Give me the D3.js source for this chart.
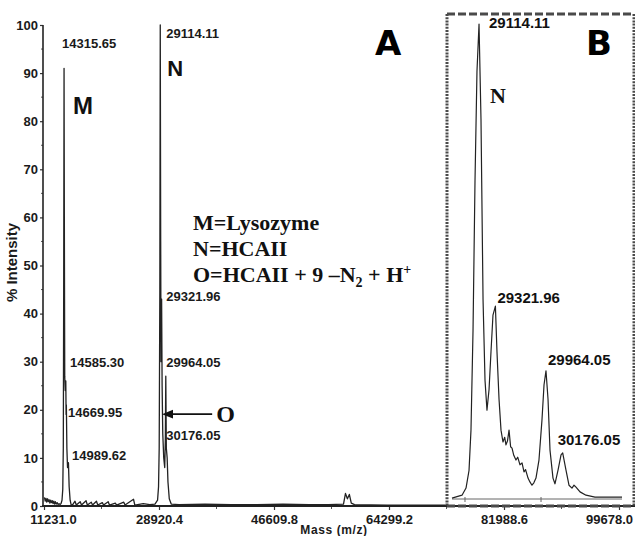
<!DOCTYPE html>
<html>
<head>
<meta charset="utf-8">
<script src="https://cdn.jsdelivr.net/npm/d3@7"></script>
<style>
  body { margin: 0; background: #fff; }
  svg { display: block; }
  .tick-label { font-family: "Liberation Sans Narrow", "Liberation Sans", Arial, sans-serif; font-weight: bold; font-size: 13px; fill: #1a1a1a; }
  .peak-label { font-family: "Liberation Sans Narrow", "Liberation Sans", Arial, sans-serif; font-weight: bold; font-size: 13px; fill: #1a1a1a; }
  .inset-label { font-family: "Liberation Sans", Arial, sans-serif; font-weight: bold; font-size: 15px; fill: #111; }
  .legend { font-family: "Liberation Serif", "Times New Roman", serif; font-weight: bold; font-size: 22px; fill: #111; }
</style>
</head>
<body>
<div id="chart"></div>
<script>
// main spectrum, [mass (m/z), % intensity]
const mainSpectrum = [
  [11300, 1.8], [11420, 1.0], [11540, 1.6], [11660, 0.8], [11780, 1.5], [11900, 0.9],
  [12020, 1.3], [12140, 0.6], [12260, 1.2], [12380, 0.7], [12500, 1.1], [12620, 0.5],
  [12740, 1.0], [12860, 0.4], [12980, 0.9], [13100, 0.4], [13250, 0.7], [13400, 0.3],
  [13550, 0.5], [13700, 0.3], [13850, 0.5], [14000, 1.2], [14120, 3.5], [14200, 12],
  [14260, 45], [14315.65, 91], [14360, 60], [14420, 27], [14500, 24], [14585.30, 26],
  [14630, 19], [14669.95, 21], [14750, 12], [14850, 8], [14989.62, 9], [15100, 4],
  [15250, 1.2], [15400, 0.3], [15600, 0.2], [16000, 1.0], [16200, 0.2], [16800, 0.9],
  [17000, 0.2], [17700, 1.1], [17900, 0.2], [18500, 0.8], [18700, 0.2], [19300, 1.0],
  [19500, 0.2], [20200, 0.7], [20400, 0.2], [21100, 0.9], [21300, 0.2], [22200, 0.6],
  [22400, 0.2], [23500, 0.8], [23700, 0.2], [25000, 1.4], [25200, 0.2], [26500, 0.5],
  [27500, 0.3], [28300, 0.4], [28700, 1.2], [28850, 4], [28950, 12], [29050, 45],
  [29114.11, 100], [29180, 55], [29230, 30], [29321.96, 43], [29400, 25], [29500, 15],
  [29650, 10], [29800, 8], [29900, 14], [29964.05, 27], [30050, 12], [30176.05, 10],
  [30300, 5], [30500, 1.5], [30800, 0.4], [32000, 0.3], [36000, 0.4], [40000, 0.3],
  [44000, 0.3], [48000, 0.4], [52000, 0.3], [55000, 0.3], [57300, 0.4], [57600, 2.6],
  [57900, 1.5], [58200, 2.4], [58500, 0.6], [59000, 0.3], [64000, 0.2], [70000, 0.2],
  [73000, 0.2]
];

// expanded view B around HCAII
const insetSpectrum = [
  [28771, 0.2], [28898, 0.8], [28949, 2.3], [28987, 6], [29012, 14.5], [29038, 35.6],
  [29063, 67], [29088, 90], [29114.11, 100], [29139, 80], [29165, 42], [29190, 25],
  [29215, 18.7], [29241, 23], [29266, 31], [29291, 38.7], [29321.96, 40.6], [29342, 31],
  [29368, 21], [29393, 14.5], [29418, 12], [29440, 13], [29456, 11.4], [29475, 12.2],
  [29495, 14.5], [29515, 11], [29533, 10.7], [29555, 9.2], [29583, 8.2], [29605, 8.8],
  [29634, 7.2], [29660, 7.6], [29685, 5.7], [29705, 6.2], [29736, 4.4], [29760, 3.6],
  [29786, 2.9], [29810, 3.4], [29837, 4.4], [29875, 8.2], [29913, 16.6], [29939, 24],
  [29964.05, 27], [29990, 21], [30015, 10.3], [30053, 4.4], [30078, 3.2], [30117, 6.1],
  [30155, 9.3], [30176.05, 9.7], [30218, 6.1], [30256, 2.9], [30294, 2.3], [30320, 2.9],
  [30345, 2.5], [30396, 1.5], [30472, 0.8], [30586, 0.4], [30777, 0.4], [30929, 0.4]
];

const xTicks = [11231.0, 28920.4, 46609.8, 64299.2, 81988.6, 99678.0];
const xMinor = [20075.7, 37765.1, 55454.5, 73143.9, 90833.3];
const yTicks = [0, 10, 20, 30, 40, 50, 60, 70, 80, 90, 100];
const yMinor = [5, 15, 25, 35, 45, 55, 65, 75, 85, 95];
const insetTicks = [28936, 29901];

// peak labels: text, label level in % intensity
const mPeaks = [["14315.65", 95.2], ["14585.30", 28.9], ["14669.95", 18.5], ["14989.62", 9.6]];
const nPeaks = [["29114.11", 97.3], ["29321.96", 42.6], ["29964.05", 28.9], ["30176.05", 13.7]];
const insetPeaks = [["29114.11", 29114.11, 99.2], ["29321.96", 29321.96, 41.3],
                    ["29964.05", 29964.05, 28.2], ["30176.05", 30176.05, 11.4]];

const legendLines = ["M=Lysozyme", "N=HCAII"];

const W = 635, H = 536;
const svg = d3.select("#chart").append("svg").attr("width", W).attr("height", H);

const x = d3.scaleLinear().domain([11231, 99678]).range([44, 619]);
const y = d3.scaleLinear().domain([0, 100]).range([506, 25]);

// y axis
const yAxis = svg.append("g")
    .attr("transform", "translate(43,0)")
    .call(d3.axisLeft(y).tickValues(yTicks).tickSize(3).tickPadding(2).tickFormat(d3.format("d")));
yAxis.select(".domain").remove();
yAxis.selectAll("text").attr("class", "tick-label");
yAxis.selectAll("line").attr("stroke", "#333").attr("stroke-width", 1.2);
svg.append("g")
    .selectAll("line")
    .data(yMinor)
    .join("line")
    .attr("x1", 41).attr("x2", 43)
    .attr("y1", d => y(d)).attr("y2", d => y(d))
    .attr("stroke", "#555");
svg.append("line")
    .attr("x1", 43).attr("x2", 43).attr("y1", y(100)).attr("y2", y(0) + 1)
    .attr("stroke", "#222").attr("stroke-width", 1.6);

// x axis
const xAxis = svg.append("g")
    .attr("transform", `translate(0,${y(0)})`)
    .call(d3.axisBottom(x).tickValues(xTicks).tickSize(4).tickPadding(5).tickFormat(d3.format(".1f")));
xAxis.select(".domain").remove();
xAxis.selectAll("text").attr("class", "tick-label");
xAxis.selectAll("line").attr("stroke", "#333").attr("stroke-width", 1.2);
xAxis.selectAll(".tick").filter(d => d === xTicks[0]).select("text").attr("dx", 9);
xAxis.selectAll(".tick").filter(d => d === xTicks[xTicks.length - 1]).select("text").attr("dx", -10);
svg.append("g")
    .selectAll("line")
    .data(xMinor)
    .join("line")
    .attr("x1", d => x(d)).attr("x2", d => x(d))
    .attr("y1", y(0)).attr("y2", y(0) + 3)
    .attr("stroke", "#555");
svg.append("line")
    .attr("x1", 42).attr("x2", W).attr("y1", y(0)).attr("y2", y(0))
    .attr("stroke", "#222").attr("stroke-width", 1.8);

svg.append("text")
    .attr("class", "tick-label")
    .attr("transform", `translate(17,${(y(0) + y(100)) / 2 - 3}) rotate(-90)`)
    .attr("text-anchor", "middle")
    .style("font-size", "15px")
    .text("% Intensity");

svg.append("text")
    .attr("class", "tick-label")
    .attr("x", 334).attr("y", 534)
    .attr("text-anchor", "middle")
    .style("font-size", "12px")
    .style("letter-spacing", "0.6px")
    .text("Mass (m/z)");

// main spectrum
const line = d3.line().x(d => x(d[0])).y(d => y(d[1]));
svg.append("path")
    .datum(mainSpectrum)
    .attr("d", line)
    .attr("fill", "none")
    .attr("stroke", "#222")
    .attr("stroke-width", 1.3)
    .attr("stroke-linejoin", "round");

// peak labels
const mX = x(14315.65), nX = x(29114.11);
const mDx = [-2, 6, 4, 8];
svg.append("g").selectAll("text")
    .data(mPeaks)
    .join("text")
    .attr("class", "peak-label")
    .attr("x", (d, i) => mX + mDx[i])
    .attr("y", d => y(d[1]))
    .text(d => d[0]);
svg.append("g").selectAll("text")
    .data(nPeaks)
    .join("text")
    .attr("class", "peak-label")
    .attr("x", nX + 6)
    .attr("y", d => y(d[1]))
    .text(d => d[0]);

svg.append("text")
    .attr("x", mX + 9).attr("y", y(81.5))
    .style("font", "bold 24px 'Liberation Sans', Arial, sans-serif")
    .attr("fill", "#111")
    .text("M");
svg.append("text")
    .attr("x", nX + 7).attr("y", y(89.5))
    .style("font", "bold 22px 'Liberation Sans', Arial, sans-serif")
    .attr("fill", "#111")
    .text("N");
svg.append("text")
    .attr("x", 375).attr("y", 55)
    .style("font", "bold 34px 'DejaVu Sans', sans-serif")
    .attr("fill", "#000")
    .text("A");

// arrow pointing at the O peak
svg.append("defs").append("marker")
    .attr("id", "head")
    .attr("viewBox", "0 0 10 10")
    .attr("refX", 1).attr("refY", 5)
    .attr("markerWidth", 7).attr("markerHeight", 7)
    .attr("orient", "auto-start-reverse")
    .append("path").attr("d", "M0,1 L10,5 L0,9 Z").attr("fill", "#111");
const arrowY = y(19.1), arrowX = x(30176.05) + 3;
svg.append("line")
    .attr("x1", arrowX + 2).attr("x2", arrowX + 42)
    .attr("y1", arrowY).attr("y2", arrowY)
    .attr("stroke", "#111").attr("stroke-width", 1.6)
    .attr("marker-start", "url(#head)");
svg.append("text")
    .attr("class", "legend")
    .attr("x", arrowX + 46).attr("y", arrowY + 8)
    .style("font-size", "24px")
    .text("O");

// legend block
const legend = svg.append("g").attr("class", "legend");
legendLines.forEach((t, i) => {
    legend.append("text").attr("x", 193).attr("y", 230 + i * 26).text(t);
});
const l3 = legend.append("text").attr("x", 193).attr("y", 282);
l3.append("tspan").text("O=HCAII + 9 \u2013N");
l3.append("tspan").attr("dy", 5).style("font-size", "14px").text("2");
l3.append("tspan").attr("dy", -5).text(" + H");
l3.append("tspan").attr("dy", -8).style("font-size", "14px").text("+");

// inset B
const ix = d3.scaleLinear().domain([28771, 30929]).range([452, 622]);
const iy = d3.scaleLinear().domain([0, 100]).range([499, 24]);
const inset = svg.append("g");

inset.append("line")
    .attr("x1", ix.range()[0]).attr("x2", ix.range()[1])
    .attr("y1", iy(0)).attr("y2", iy(0))
    .attr("stroke", "#666").attr("stroke-width", 1);
inset.selectAll(".itick")
    .data(insetTicks)
    .join("line")
    .attr("x1", d => ix(d)).attr("x2", d => ix(d))
    .attr("y1", iy(0) - 2).attr("y2", iy(0) + 3)
    .attr("stroke", "#666");

const iline = d3.line().x(d => ix(d[0])).y(d => iy(d[1]));
inset.append("path")
    .datum(insetSpectrum)
    .attr("d", iline)
    .attr("fill", "none")
    .attr("stroke", "#222")
    .attr("stroke-width", 1.2)
    .attr("stroke-linejoin", "round");

const iDx = [10, 2, 2, -5];
inset.selectAll(".ilabel")
    .data(insetPeaks)
    .join("text")
    .attr("class", "inset-label")
    .attr("x", (d, i) => ix(d[1]) + iDx[i])
    .attr("y", d => iy(d[2]))
    .text(d => d[0]);
inset.append("text")
    .attr("class", "legend")
    .attr("x", ix(29114.11) + 11).attr("y", iy(83.4))
    .text("N");
inset.append("text")
    .attr("x", 586).attr("y", 55)
    .style("font", "bold 34px 'DejaVu Sans', sans-serif")
    .attr("fill", "#000")
    .text("B");

// dashed frame
const bx0 = 447, bx1 = 634, by0 = 14, by1 = 506;
const frame = svg.append("g").attr("stroke", "#4a4a4a").attr("fill", "none");
frame.append("path").attr("d", `M${bx0},${by0}H${bx1}M${bx0},${by1}H${bx1}`)
    .attr("stroke-width", 3).attr("stroke-dasharray", "8,3");
frame.append("path").attr("d", `M${bx0},${by0}V${by1}M${bx1},${by0}V${by1}`)
    .attr("stroke-width", 3).attr("stroke-dasharray", "2,1.2");
</script>
</body>
</html>
